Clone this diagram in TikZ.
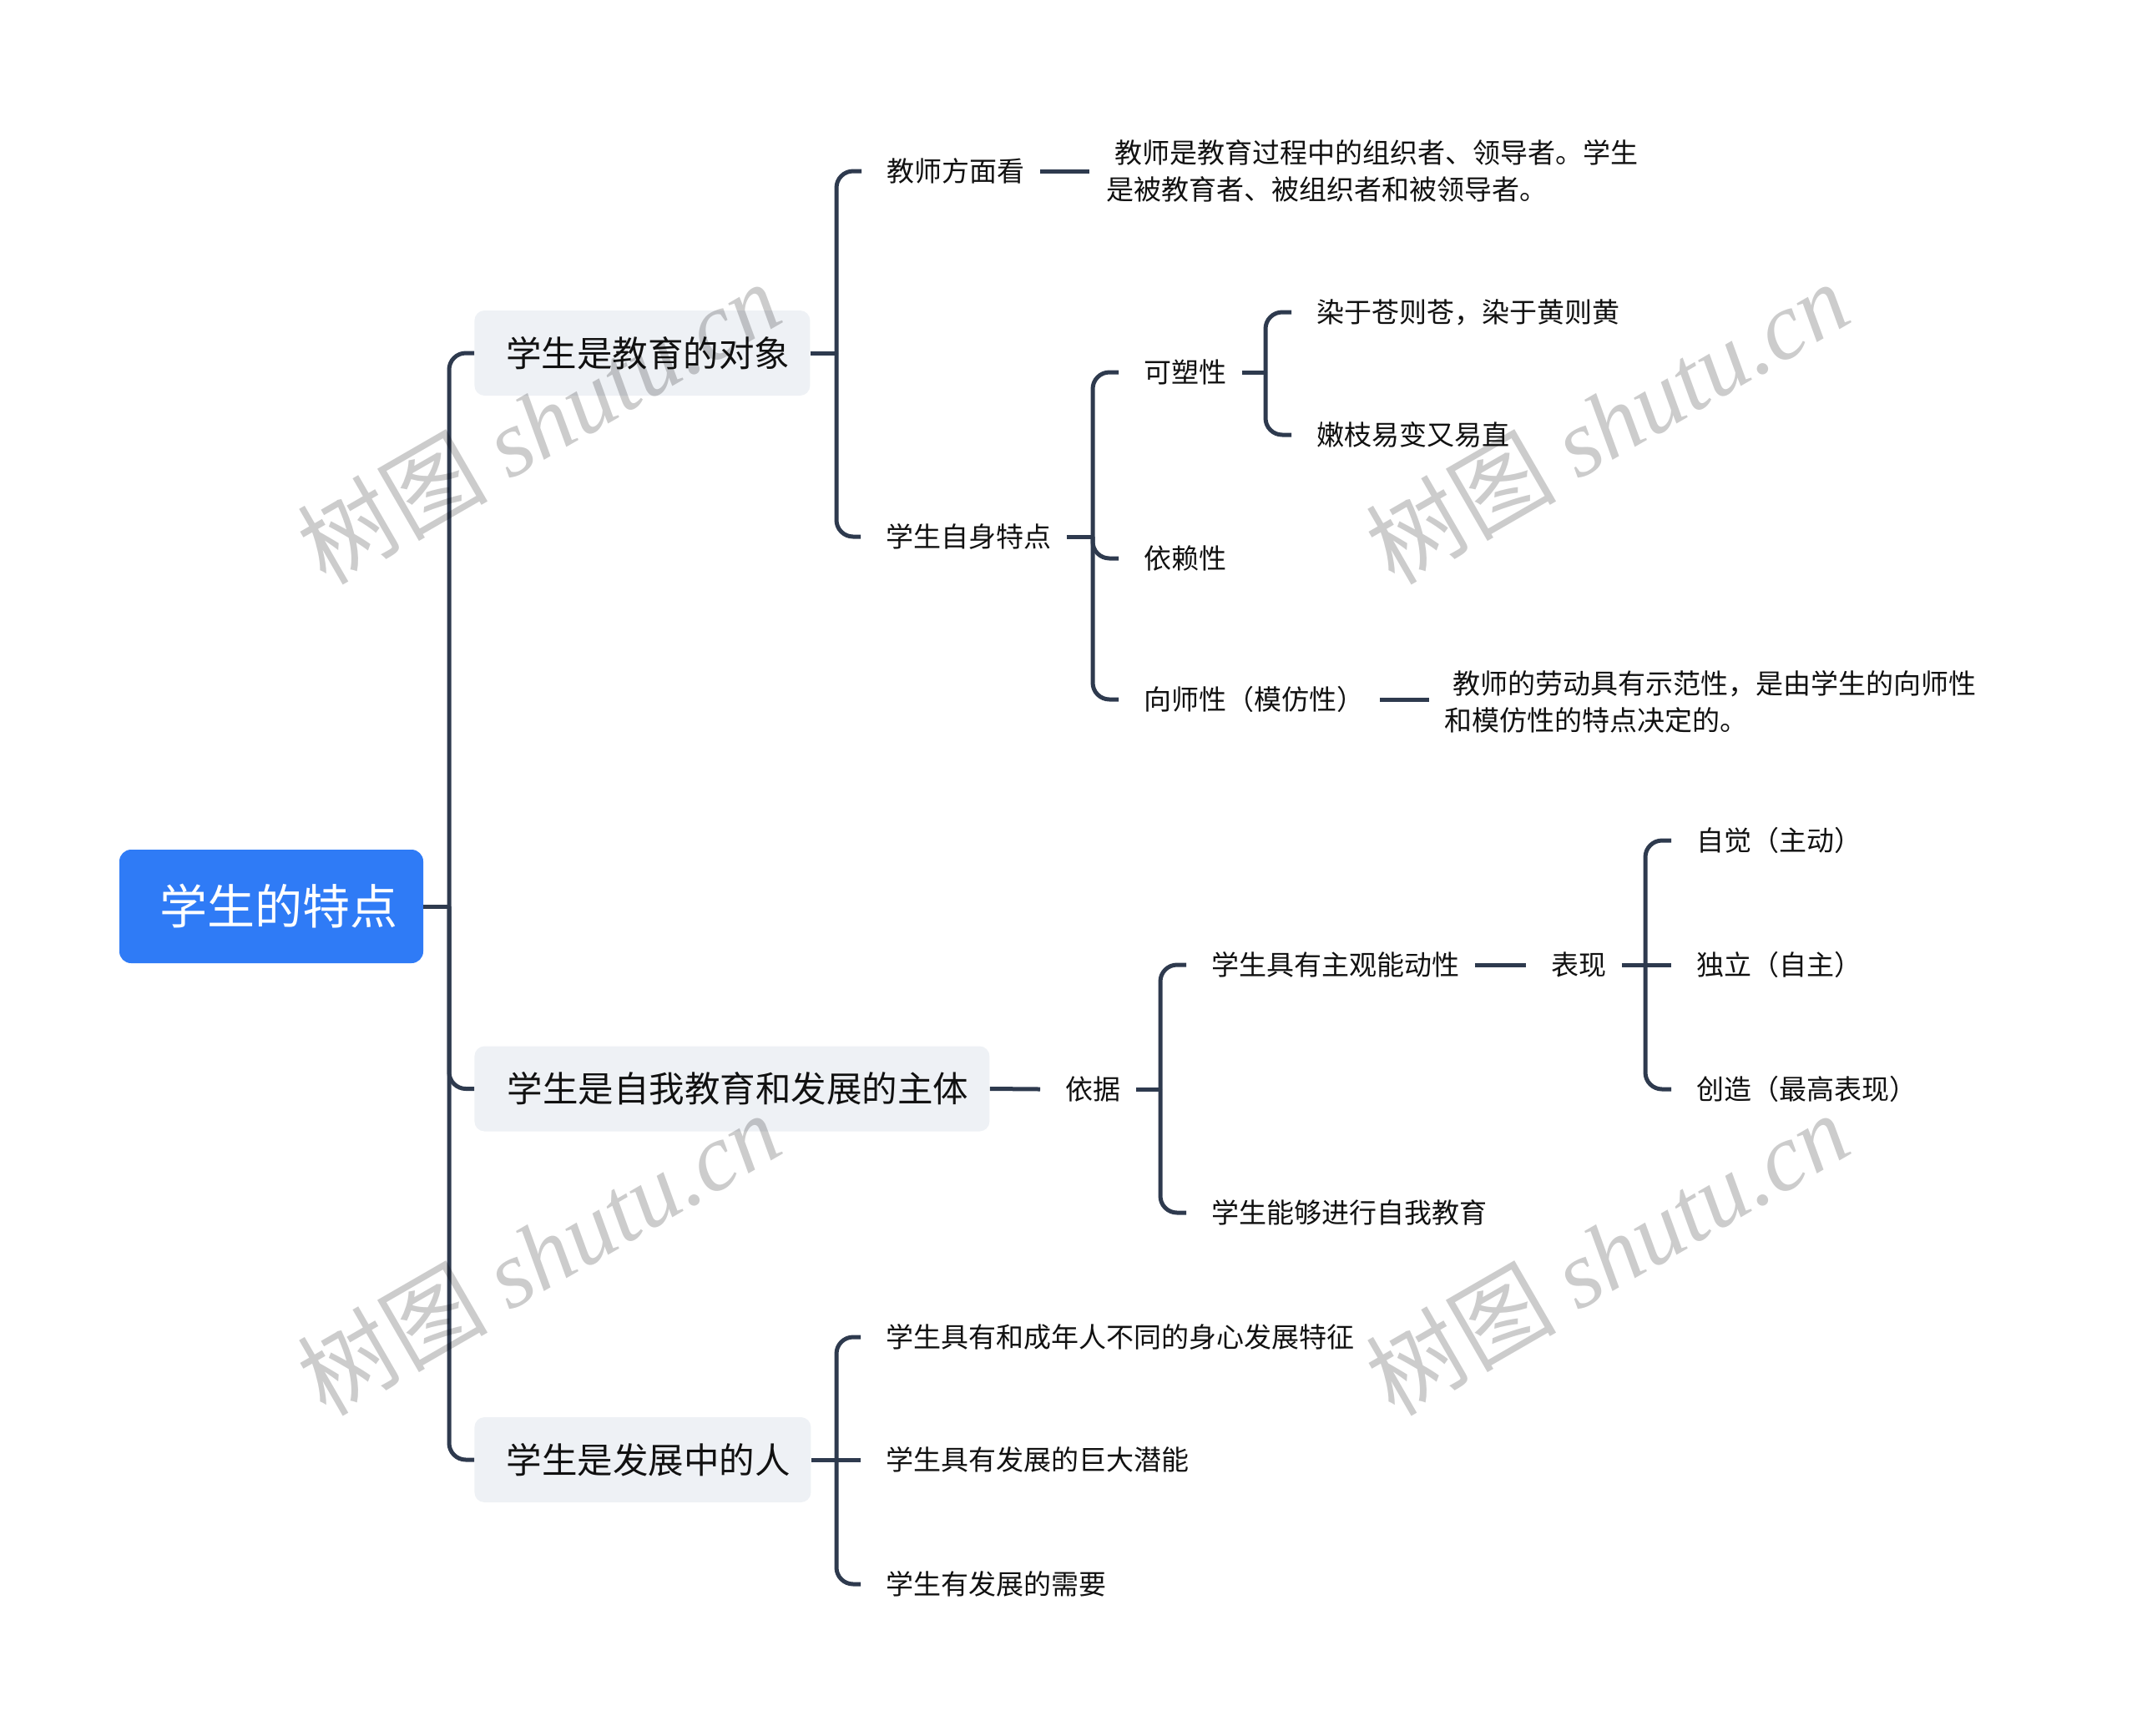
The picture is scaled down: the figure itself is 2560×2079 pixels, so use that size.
\documentclass[tikz,border=0pt]{standalone}
\usepackage{fontspec}
\setmainfont{Noto Sans CJK SC}
\newfontfamily\wmlatin{Liberation Serif}
\newfontfamily\wmcjk{Noto Sans CJK SC}
\definecolor{rootblue}{RGB}{47,123,246}
\definecolor{boxgray}{RGB}{238,241,245}
\definecolor{linec}{RGB}{46,58,78}
\definecolor{txt}{RGB}{17,17,17}
\tikzset{
  conn/.style={draw=linec, line width=2.5pt, rounded corners=10pt},
  rootbox/.style={fill=rootblue, rounded corners=7pt, text=white, font=\fontsize{28.5pt}{34pt}\selectfont, minimum width=182pt, minimum height=68pt, inner sep=0pt},
  lvone/.style={fill=boxgray, rounded corners=6pt, text=txt, font=\fontsize{21.25pt}{26pt}\selectfont, minimum height=51pt, inner sep=0pt, anchor=west},
  lvtext/.style={text=txt, font=\fontsize{16.5pt}{22pt}\selectfont, inner sep=0pt, anchor=west},
  leaftext/.style={lvtext, align=left},
  wm/.style={text=black, text opacity=0.2, font=\fontsize{57pt}{57pt}\selectfont, rotate=30, inner sep=0pt}
}
\begin{document}
\begin{tikzpicture}[x=0.5pt,y=-0.5pt]
\useasboundingbox (0,0) rectangle (2560,2079);
% vertical bus coordinates
\coordinate (vT) at (538,0);
\coordinate (vB1) at (1002,0);
\coordinate (vT2) at (1309,0);
\coordinate (vP1) at (1516,0);
\coordinate (vY) at (1390,0);
\coordinate (vBX) at (1971,0);
\coordinate (vB3) at (1002,0);

% root
\node[rootbox] (root) at (325,1086) {\hspace*{9pt}学生的特点};

% level 1
\node[lvone, minimum width=201pt] (b1) at (568,423) {\hspace*{7pt}学生是教育的对象};
\node[lvone, minimum width=308.5pt] (b2) at (568,1304.5) {\hspace*{7pt}学生是自我教育和发展的主体};
\node[lvone, minimum width=201.5pt] (b3) at (568,1749) {\hspace*{7pt}学生是发展中的人};

% branch 1
\node[lvtext] (t1) at (1062,205) {教师方面看};
\node[leaftext] (t1leaf) at (1325,205) {\hspace*{5pt}教师是教育过程中的组织者、领导者。学生\\是被教育者、被组织者和被领导者。};
\node[lvtext] (t2) at (1061,643) {学生自身特点};
\node[lvtext] (p1) at (1370,446) {可塑性};
\node[lvtext] (p1a) at (1577,374) {染于苍则苍，染于黄则黄};
\node[lvtext] (p1b) at (1577,521) {嫩枝易变又易直};
\node[lvtext] (p2) at (1370,669) {依赖性};
\node[lvtext] (p3) at (1370,838) {向师性（模仿性）};
\node[leaftext] (p3leaf) at (1730,841) {\hspace*{5pt}教师的劳动具有示范性，是由学生的向师性\\和模仿性的特点决定的。};

% branch 2
\node[lvtext] (y1) at (1276,1305) {依据};
\node[lvtext] (y1a) at (1451,1156) {学生具有主观能动性};
\node[lvtext] (bx) at (1858,1156) {表现};
\node[lvtext] (bx1) at (2032,1007) {自觉（主动）};
\node[lvtext] (bx2) at (2032,1156) {独立（自主）};
\node[lvtext] (bx3) at (2032,1305) {创造（最高表现）};
\node[lvtext] (y1b) at (1451,1453) {学生能够进行自我教育};

% branch 3
\node[lvtext] (d1) at (1061,1602) {学生具有和成年人不同的身心发展特征};
\node[lvtext] (d2) at (1061,1749) {学生具有发展的巨大潜能};
\node[lvtext] (d3) at (1061,1898) {学生有发展的需要};

% connectors: trunk
\draw[conn] (root.east) -- (root.east -| vT);
\draw[conn] (root.east -| vT) |- (b1.west);
\draw[conn] (root.east -| vT) |- (b2.west);
\draw[conn] (root.east -| vT) |- (b3.west);

% branch 1
\draw[conn] (b1.east) -- (b1.east -| vB1);
\draw[conn] (b1.east -| vB1) |- ([xshift=-15pt]t1.west);
\draw[conn] (b1.east -| vB1) |- ([xshift=-15pt]t2.west);
\draw[conn] ([xshift=9pt]t1.east) -- ([xshift=-10pt]t1leaf.west);
\draw[conn] ([xshift=9pt]t2.east) -- (t2.east -| vT2);
\draw[conn] (t2.east -| vT2) |- ([xshift=-15pt]p1.west);
\draw[conn] (t2.east -| vT2) |- ([xshift=-15pt]p2.west);
\draw[conn] (t2.east -| vT2) |- ([xshift=-15pt]p3.west);
\draw[conn] ([xshift=9pt]p1.east) -- (p1.east -| vP1);
\draw[conn] (p1.east -| vP1) |- ([xshift=-15pt]p1a.west);
\draw[conn] (p1.east -| vP1) |- ([xshift=-15pt]p1b.west);
\draw[conn] ([xshift=9pt]p3.east) -- ([xshift=-9pt]p3leaf.west |- p3.east);

% branch 2
\draw[conn] (b2.east) -- ([xshift=-15pt]y1.west);
\draw[conn] ([xshift=9pt]y1.east) -- (y1.east -| vY);
\draw[conn] (y1.east -| vY) |- ([xshift=-15pt]y1a.west);
\draw[conn] (y1.east -| vY) |- ([xshift=-15pt]y1b.west);
\draw[conn] ([xshift=9pt]y1a.east) -- ([xshift=-15pt]bx.west);
\draw[conn] ([xshift=9pt]bx.east) -- (bx.east -| vBX);
\draw[conn] (bx.east -| vBX) |- ([xshift=-15pt]bx1.west);
\draw[conn] (bx.east -| vBX) -- ([xshift=-15pt]bx2.west);
\draw[conn] (bx.east -| vBX) |- ([xshift=-15pt]bx3.west);

% branch 3
\draw[conn] (b3.east) -- (b3.east -| vB3);
\draw[conn] (b3.east -| vB3) |- ([xshift=-15pt]d1.west);
\draw[conn] (b3.east -| vB3) -- ([xshift=-15pt]d2.west);
\draw[conn] (b3.east -| vB3) |- ([xshift=-15pt]d3.west);

% watermarks
\node[wm] (wm1) at (645,506) {{\wmcjk 树图} {\wmlatin\itshape shutu.cn}};
\node[wm] (wm2) at (1925,506) {{\wmcjk 树图} {\wmlatin\itshape shutu.cn}};
\node[wm] (wm3) at (645,1502) {{\wmcjk 树图} {\wmlatin\itshape shutu.cn}};
\node[wm] (wm4) at (1925,1502) {{\wmcjk 树图} {\wmlatin\itshape shutu.cn}};
\end{tikzpicture}
\end{document}
